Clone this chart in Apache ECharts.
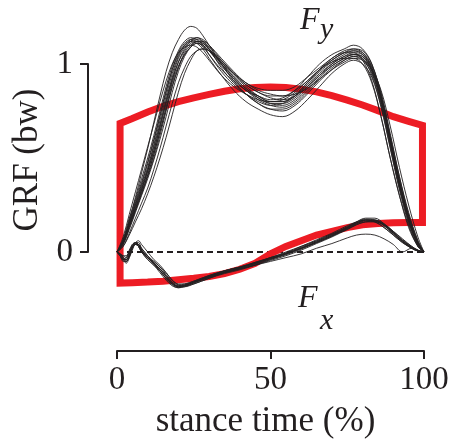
<!DOCTYPE html>
<html><head><meta charset="utf-8">
<script src="https://cdn.jsdelivr.net/npm/echarts@6/dist/echarts.min.js"></script>
<style>html,body{margin:0;padding:0;background:#fff}#c{width:454px;height:443px}</style>
</head><body><div id="c"></div>
<script>
// ---- data ----
const xTicks = [0, 50, 100];
const yTicks = [0, 1];
const xTitle = 'stance time (%)';
const yTitle = 'GRF (bw)';

const tFy = [0,2,4,6,8,10,12,14,16,18,20,22,24,26,28,30,34,38,42,46,50,54,58,62,66,70,74,77,80,83,86,89,92,95,98,100];
const fyA = [0,.05,.14,.23,.32,.41,.52,.64,.77,.90,.99,1.05,1.09,1.11,1.10,1.07,.99,.92,.86,.82,.79,.79,.82,.88,.95,1.00,1.04,1.05,1.03,.94,.78,.56,.34,.17,.04,0];
const fyB = [0,.07,.18,.28,.39,.50,.62,.75,.88,.99,1.07,1.12,1.14,1.13,1.10,1.05,.96,.89,.84,.80,.78,.79,.83,.90,.97,1.03,1.06,1.06,1.02,.91,.72,.50,.30,.14,.03,0];
const fyC = [0,.03,.10,.18,.26,.34,.44,.55,.67,.79,.90,.98,1.04,1.07,1.08,1.07,1.02,.95,.89,.85,.82,.81,.83,.88,.94,.99,1.03,1.05,1.04,.97,.83,.62,.40,.21,.06,0];
const fyD = [0,.06,.15,.25,.35,.45,.57,.70,.83,.95,1.04,1.10,1.13,1.14,1.12,1.08,.98,.90,.84,.79,.76,.76,.79,.85,.92,.98,1.02,1.04,1.02,.95,.80,.59,.37,.19,.05,0];
const fyE = [0,.04,.12,.21,.30,.39,.49,.60,.72,.85,.96,1.04,1.09,1.12,1.12,1.10,1.03,.96,.90,.87,.86,.86,.88,.93,.98,1.03,1.07,1.08,1.06,.98,.82,.60,.38,.19,.05,0];
const fyF = [0,.06,.17,.29,.42,.55,.69,.83,.96,1.06,1.13,1.18,1.20,1.19,1.15,1.10,1.00,.91,.84,.79,.76,.75,.78,.84,.91,.97,1.02,1.04,1.03,.96,.81,.59,.36,.17,.04,0];
const fyG = [0,.05,.13,.22,.31,.40,.50,.62,.75,.88,.98,1.06,1.10,1.12,1.11,1.08,1.01,.94,.88,.83,.80,.80,.84,.90,.97,1.02,1.06,1.07,1.05,.97,.81,.58,.35,.17,.04,0];
const fyH = [0,.03,.09,.16,.23,.31,.40,.50,.61,.73,.85,.95,1.02,1.07,1.08,1.07,1.01,.95,.90,.86,.84,.83,.84,.87,.92,.97,1.01,1.03,1.02,.97,.86,.67,.45,.25,.08,0];
const fyI = [0,.06,.16,.26,.36,.47,.59,.72,.85,.97,1.06,1.11,1.13,1.12,1.09,1.05,.97,.91,.86,.83,.81,.82,.86,.93,1.00,1.05,1.08,1.10,1.08,1.00,.83,.60,.36,.17,.04,0];
const fyJ = [0,.05,.14,.24,.33,.43,.54,.66,.79,.91,1.01,1.07,1.11,1.12,1.11,1.08,1.00,.92,.86,.81,.78,.77,.80,.86,.93,.99,1.03,1.05,1.04,.96,.79,.57,.35,.16,.04,0];
const fyK = [0,.05,.15,.25,.34,.44,.56,.68,.81,.93,1.03,1.09,1.12,1.13,1.12,1.09,1.01,.93,.87,.82,.79,.78,.81,.87,.94,1.00,1.04,1.06,1.05,.98,.82,.60,.37,.18,.05,0];
const fyL = [0,.04,.13,.22,.31,.41,.52,.64,.76,.88,.98,1.05,1.09,1.11,1.10,1.07,1.00,.93,.87,.83,.80,.80,.83,.89,.96,1.01,1.05,1.07,1.06,.99,.85,.63,.40,.20,.06,0];
const fyM = [0,.06,.16,.27,.37,.48,.60,.73,.86,.97,1.05,1.10,1.12,1.11,1.08,1.03,.94,.86,.80,.76,.73,.72,.75,.81,.88,.95,1.00,1.02,1.00,.93,.77,.55,.33,.15,.03,0];
const fyN = [0,.05,.14,.23,.33,.43,.54,.67,.80,.92,1.01,1.08,1.12,1.14,1.13,1.10,1.02,.95,.89,.85,.83,.83,.86,.91,.97,1.02,1.06,1.08,1.07,1.00,.84,.61,.38,.19,.05,0];
const fyO = [0,.08,.20,.32,.44,.56,.68,.80,.91,1.00,1.06,1.09,1.10,1.09,1.06,1.02,.94,.88,.84,.81,.80,.81,.85,.91,.97,1.01,1.03,1.03,1.00,.90,.72,.50,.30,.13,.03,0];

const tFx = [0,1,2,3,4,5,6,7,8,10,12,14,16,18,20,22,25,30,35,40,45,50,55,60,65,70,75,78,81,84,87,90,93,96,98,100];
const fxA = [0,-.01,-.03,-.04,-.01,.03,.045,.04,.01,-.03,-.06,-.09,-.13,-.165,-.18,-.175,-.16,-.13,-.105,-.085,-.06,-.035,-.01,.02,.055,.09,.13,.155,.17,.165,.14,.10,.06,.025,.008,0];
const fxB = [0,-.02,-.05,-.05,-.02,.02,.05,.05,.02,-.02,-.05,-.08,-.12,-.16,-.185,-.185,-.17,-.14,-.11,-.09,-.065,-.04,-.015,.015,.05,.085,.125,.15,.165,.16,.13,.09,.05,.02,.006,0];
const fxC = [0,-.01,-.02,-.03,0,.03,.04,.03,0,-.04,-.07,-.10,-.14,-.17,-.185,-.18,-.165,-.135,-.11,-.09,-.07,-.045,-.02,.01,.045,.08,.12,.145,.16,.16,.145,.11,.07,.03,.01,0];
const fxD = [0,-.02,-.04,-.03,0,.04,.05,.03,0,-.03,-.05,-.08,-.11,-.15,-.17,-.17,-.155,-.125,-.10,-.08,-.055,-.03,-.005,.025,.06,.095,.135,.16,.175,.17,.14,.095,.055,.02,.005,0];
const fxE = [0,-.01,-.03,-.05,-.03,.01,.04,.04,.02,-.02,-.06,-.10,-.14,-.175,-.19,-.18,-.16,-.13,-.11,-.09,-.07,-.05,-.03,-.01,.02,.045,.075,.09,.095,.09,.07,.04,0,.02,.008,0];
const fxF = [0,-.01,-.04,-.06,-.03,.02,.05,.06,.04,0,-.04,-.07,-.11,-.15,-.175,-.18,-.17,-.14,-.115,-.095,-.07,-.04,-.01,.02,.055,.09,.13,.16,.18,.18,.15,.105,.06,.025,.008,0];
const fxG = [0,-.01,-.02,-.02,.01,.04,.05,.04,.01,-.03,-.06,-.09,-.125,-.16,-.175,-.17,-.155,-.125,-.10,-.08,-.055,-.03,-.005,.03,.065,.10,.14,.16,.17,.16,.13,.09,.05,.02,.005,0];
const fxH = [0,-.02,-.04,-.04,-.01,.03,.04,.03,0,-.04,-.07,-.11,-.15,-.18,-.19,-.185,-.165,-.13,-.10,-.08,-.06,-.035,-.01,.02,.05,.085,.125,.15,.17,.17,.15,.11,.065,.03,.01,0];
const fxI = [0,-.01,-.03,-.04,-.02,.02,.04,.04,.01,-.03,-.06,-.09,-.13,-.17,-.185,-.18,-.16,-.13,-.105,-.085,-.06,-.035,-.01,.02,.05,.085,.12,.145,.16,.165,.145,.105,.06,.025,.008,0];
const fxJ = [0,-.02,-.04,-.05,-.02,.03,.05,.04,.01,-.03,-.06,-.10,-.14,-.17,-.18,-.175,-.16,-.135,-.11,-.085,-.06,-.03,0,.03,.06,.095,.13,.155,.17,.17,.145,.10,.055,.02,.005,0];

const redX      = [1,5,10,15,20,25,30,35,40,45,50,55,60,65,70,75,80,85,90,95,99.5];
const redTop    = [.684,.71,.745,.775,.80,.82,.838,.855,.868,.875,.878,.875,.866,.852,.832,.808,.782,.752,.72,.695,.674];
const redBottom = [-.165,-.163,-.16,-.155,-.148,-.14,-.13,-.115,-.092,-.06,-.01,.03,.06,.09,.11,.13,.145,.152,.156,.157,.157];

const fyTrials = [fyA,fyB,fyC,fyD,fyE,fyF,fyG,fyH,fyI,fyJ,fyK,fyL,fyM,fyN,fyO];
const fxTrials = [fxA,fxB,fxC,fxD,fxE,fxF,fxG,fxH,fxI,fxJ];

// ---- build ----
const serif = '"Liberation Serif", "DejaVu Serif", serif';
const ink = '#231f20';
const red = '#ed1c24';

const series = [];
series.push({
  type: 'line', xAxisIndex: 0, yAxisIndex: 0, data: [], symbol: 'none', silent: true, z: 1,
  markLine: { silent: true, symbol: 'none', label: { show: false }, z: 1,
    lineStyle: { color: ink, width: 1.8, type: [6, 4] }, data: [{ yAxis: 0 }] }
});
const n = redX.length;
const poly = [];
poly.push([redX[0], (redTop[0] + redBottom[0]) / 2]);
for (let i = 0; i < n; i++) poly.push([redX[i], redTop[i]]);
for (let i = n - 1; i >= 0; i--) poly.push([redX[i], redBottom[i]]);
poly.push([redX[0], (redTop[0] + redBottom[0]) / 2]);
series.push({
  type: 'line', xAxisIndex: 0, yAxisIndex: 0, data: poly, symbol: 'none', silent: true, z: 2,
  clip: false,
  lineStyle: { color: red, width: 7, join: 'miter', cap: 'butt' }
});
fyTrials.forEach(tr => series.push({
  type: 'line', xAxisIndex: 0, yAxisIndex: 0, data: tFy.map((x, i) => [x, tr[i]]),
  symbol: 'none', smooth: 0.35, silent: true, z: 3, clip: false,
  lineStyle: { color: ink, width: 0.9 }
}));
fxTrials.forEach(tr => series.push({
  type: 'line', xAxisIndex: 0, yAxisIndex: 0, data: tFx.map((x, i) => [x, tr[i]]),
  symbol: 'none', smooth: 0.35, silent: true, z: 3, clip: false,
  lineStyle: { color: ink, width: 0.9 }
}));

const chart = echarts.init(document.getElementById('c'), null, { renderer: 'canvas' });
chart.setOption({
  animation: false,
  backgroundColor: '#fff',
  grid: [
    { left: 117, width: 307, top: 7.6, height: 343.4 },
    { left: 88, width: 20, top: 64, height: 188 }
  ],
  xAxis: [
    { gridIndex: 0, type: 'value', position: 'bottom', min: xTicks[0], max: xTicks[xTicks.length - 1], interval: xTicks[1] - xTicks[0],
      axisLine: { show: true, onZero: false, lineStyle: { color: ink, width: 2 } },
      axisTick: { show: true, inside: false, length: 8, lineStyle: { color: ink, width: 2 } },
      axisLabel: { show: true, color: ink, fontFamily: serif, fontSize: 33, margin: 13 },
      splitLine: { show: false } },
    { gridIndex: 1, type: 'value', show: false, min: 0, max: 1 }
  ],
  yAxis: [
    { gridIndex: 0, type: 'value', min: -0.5266, max: 1.3, show: false },
    { gridIndex: 1, type: 'value', min: yTicks[0], max: yTicks[yTicks.length - 1], interval: yTicks[1] - yTicks[0],
      axisLine: { show: true, onZero: false, lineStyle: { color: ink, width: 2 } },
      axisTick: { show: true, inside: false, length: 8, lineStyle: { color: ink, width: 2 } },
      axisLabel: { show: true, color: ink, fontFamily: serif, fontSize: 33, margin: 15 },
      splitLine: { show: false } }
  ],
  graphic: [
    { type: 'text', x: 265.5, y: 422, style: { text: xTitle, font: '35px ' + serif, fill: ink, textAlign: 'center', textVerticalAlign: 'middle' } },
    { type: 'text', x: 28, y: 160, rotation: Math.PI / 2, style: { text: yTitle, font: '35px ' + serif, fill: ink, textAlign: 'center', textVerticalAlign: 'middle' } },
    { type: 'text', x: 300, y: 21, style: { text: 'F', font: 'italic 32px ' + serif, fill: ink, textAlign: 'left', textVerticalAlign: 'middle' } },
    { type: 'text', x: 320, y: 30.5, style: { text: 'y', font: 'italic 30px ' + serif, fill: ink, textAlign: 'left', textVerticalAlign: 'middle' } },
    { type: 'text', x: 298, y: 299, style: { text: 'F', font: 'italic 32px ' + serif, fill: ink, textAlign: 'left', textVerticalAlign: 'middle' } },
    { type: 'text', x: 320, y: 321, style: { text: 'x', font: 'italic 30px ' + serif, fill: ink, textAlign: 'left', textVerticalAlign: 'middle' } }
  ],
  series: series
});
</script></body></html>
